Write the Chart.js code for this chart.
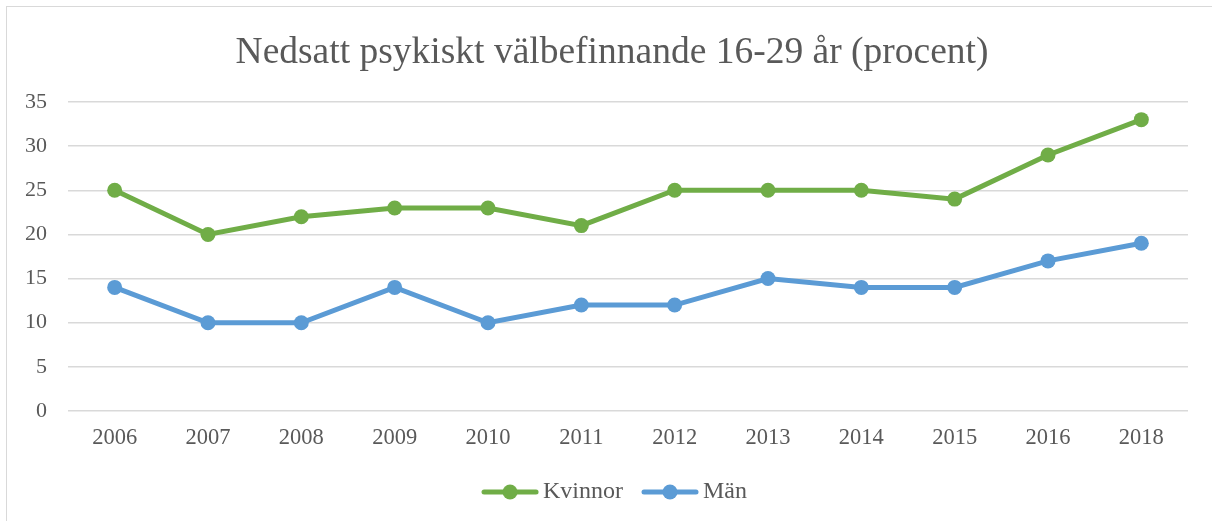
<!DOCTYPE html>
<html>
<head>
<meta charset="utf-8">
<script src="https://cdn.jsdelivr.net/npm/chart.js@4.4.1/dist/chart.umd.min.js"></script>
<style>
  html, body { margin: 0; padding: 0; background: #ffffff; }
  #wrap { position: relative; width: 1212px; height: 521px; overflow: hidden; }
  #frame { position: absolute; left: 6px; top: 6px; width: 1300px; height: 600px;
           border-left: 1.5px solid #d9d9d9; border-top: 1.5px solid #d9d9d9; }
  #chart { position: absolute; left: 0; top: 0; }
</style>
</head>
<body>
<div id="wrap">
  <div id="frame"></div>
  <canvas id="chart" width="1212" height="521"></canvas>
</div>
<script>
// data
const years = ["2006", "2007", "2008", "2009", "2010", "2011", "2012", "2013", "2014", "2015", "2016", "2018"];
const kvinnor = [25, 20, 22, 23, 23, 21, 25, 25, 25, 24, 29, 33];
const man = [14, 10, 10, 14, 10, 12, 12, 15, 14, 14, 17, 19];
const yTicks = [0, 5, 10, 15, 20, 25, 30, 35];

const GREEN = "#70ad47";
const BLUE = "#5b9bd5";
const TEXT = "#595959";
const GRID = "#d9d9d9";
const FONT = "'Liberation Serif', 'Times New Roman', serif";

// legend swatch: short line with a dot in the middle
function legendSwatch(color) {
  const c = document.createElement("canvas");
  c.width = 58; c.height = 18;
  const g = c.getContext("2d");
  g.strokeStyle = color;
  g.lineWidth = 5;
  g.lineCap = "round";
  g.beginPath(); g.moveTo(3, 9); g.lineTo(55, 9); g.stroke();
  g.fillStyle = color;
  g.beginPath(); g.arc(29, 9, 7.5, 0, Math.PI * 2); g.fill();
  return c;
}

// title and legend sit a little right of the centre in the original
const nudgeBoxes = {
  id: "nudgeBoxes",
  afterLayout(chart) {
    const t = chart.titleBlock;
    if (t) { t.left += 8; t.right += 8; }
    const l = chart.legend;
    if (l) { l.left += 14; l.right += 14; }
  }
};

Chart.defaults.font.family = FONT;
Chart.defaults.color = TEXT;

new Chart(document.getElementById("chart"), {
  type: "line",
  data: {
    labels: years,
    datasets: [
      {
        label: "Kvinnor",
        data: kvinnor,
        borderColor: GREEN,
        backgroundColor: GREEN,
        borderWidth: 5,
        pointRadius: 7.5,
        pointHoverRadius: 7.5,
        pointBorderWidth: 0,
        pointStyle: "circle",
        tension: 0
      },
      {
        label: "Män",
        data: man,
        borderColor: BLUE,
        backgroundColor: BLUE,
        borderWidth: 5,
        pointRadius: 7.5,
        pointHoverRadius: 7.5,
        pointBorderWidth: 0,
        pointStyle: "circle",
        tension: 0
      }
    ]
  },
  plugins: [nudgeBoxes],
  options: {
    responsive: false,
    animation: false,
    layout: { padding: { left: 20, right: 24, top: 6, bottom: 7 } },
    plugins: {
      title: {
        display: true,
        text: "Nedsatt psykiskt välbefinnande 16-29 år (procent)",
        color: TEXT,
        font: { family: FONT, size: 37.5, weight: "normal" },
        padding: { top: 25, bottom: 26 }
      },
      legend: {
        position: "bottom",
        labels: {
          color: TEXT,
          font: { family: FONT, size: 24 },
          usePointStyle: true,
          pointStyleWidth: 42,
          boxHeight: 18,
          padding: 26,
          generateLabels: chart => chart.data.datasets.map((ds, i) => ({
            text: ds.label,
            fontColor: TEXT,
            pointStyle: legendSwatch(ds.borderColor),
            datasetIndex: i,
            lineWidth: 0,
            hidden: false
          }))
        }
      },
      tooltip: { enabled: false }
    },
    scales: {
      x: {
        offset: true,
        afterFit: scale => { scale.height = 43; },
        grid: { display: false, drawTicks: false },
        border: { display: false },
        ticks: { color: TEXT, font: { family: FONT, size: 22.5 }, padding: 14, maxRotation: 0 }
      },
      y: {
        min: 0,
        max: 35,
        afterBuildTicks: scale => { scale.ticks = yTicks.map(v => ({ value: v })); },
        afterFit: scale => { scale.width = 48; },
        grid: { color: GRID, lineWidth: 1.5, drawTicks: false },
        border: { display: false },
        ticks: { color: TEXT, font: { family: FONT, size: 22 }, padding: 21 }
      }
    }
  }
});
</script>
</body>
</html>
